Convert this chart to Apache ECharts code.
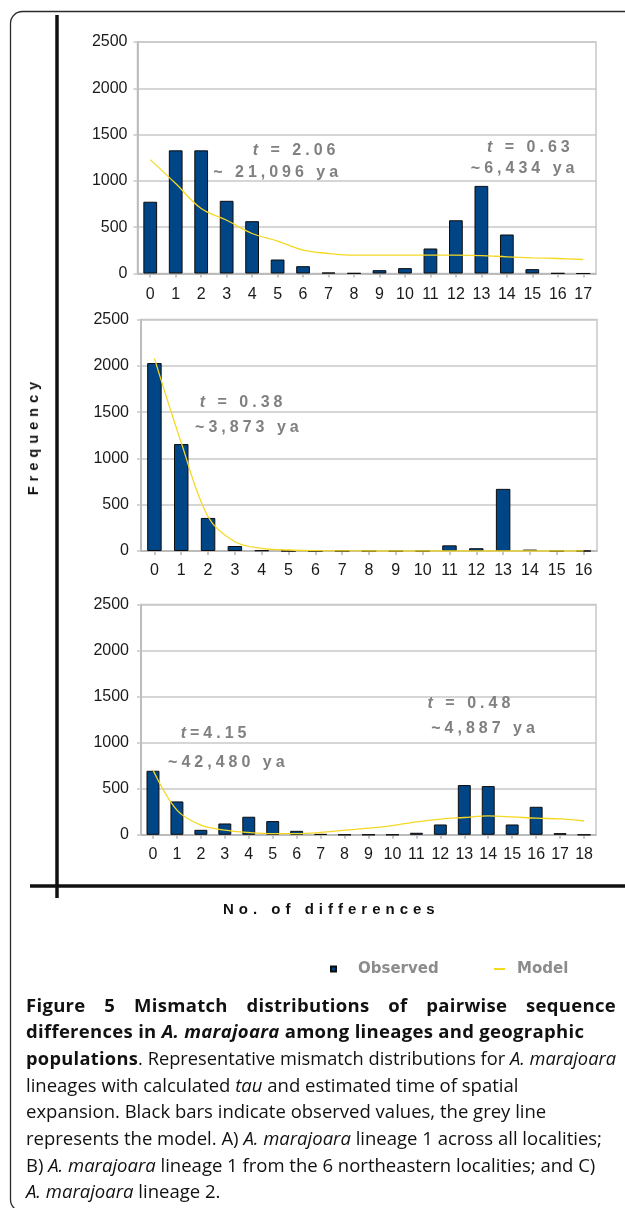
<!DOCTYPE html>
<html>
<head>
<meta charset="utf-8">
<script src="https://cdn.jsdelivr.net/npm/echarts@6/dist/echarts.min.js"></script>
<style>
  html, body { margin: 0; padding: 0; background: #fff; }
  #wrap { position: relative; width: 625px; height: 1208px; overflow: hidden; background: #fff; }
  #chart { position: absolute; left: 0; top: 0; width: 625px; height: 1208px; }
  .ov { position: absolute; z-index: 5; white-space: nowrap; }
  .ann { font-family: "Liberation Sans", Arial, sans-serif; font-weight: bold; font-size: 16px;
         letter-spacing: 4px; color: #808080; line-height: 20px; }
  .ttl { font-family: "Liberation Sans", Arial, sans-serif; font-weight: bold; color: #111; }
  .cap { position: absolute; left: 26px; z-index: 5; font-family: "Open Sans", sans-serif;
         font-size: 18.5px; line-height: 26.67px; height: 26.67px; color: #111; white-space: nowrap;
         transform-origin: 0 50%; }
  .cap b { letter-spacing: 0.3px; }
</style>
</head>
<body>
<div id="wrap">
  <div id="chart"></div>
</div>
<script>
// ---------- data ----------
const catsA = ['0','1','2','3','4','5','6','7','8','9','10','11','12','13','14','15','16','17'];
const observedA = [775, 1330, 1330, 785, 565, 151, 79, 10, 3, 36, 58, 270, 575, 946, 421, 47, 3, 0];
const modelA = [1230, 971, 701, 575, 432, 349, 252, 216, 198, 198, 198, 198, 198, 194, 180, 169, 162, 151];

const catsB = ['0','1','2','3','4','5','6','7','8','9','10','11','12','13','14','15','16'];
const observedB = [2030, 1155, 357, 54, 7, 0, 0, 0, 0, 0, 0, 61, 30, 671, 15, 0, 0];
const modelB = [2080, 1170, 370, 100, 29, 11, 3, 1, 0, 0, 0, 0, 0, 0, 0, 0, 0];

const catsC = ['0','1','2','3','4','5','6','7','8','9','10','11','12','13','14','15','16','17','18'];
const observedC = [695, 362, 54, 123, 196, 149, 43, 8, 0, 0, 0, 22, 112, 540, 529, 112, 304, 18, 0];
const modelC = [703, 268, 105, 51, 25, 12, 12, 25, 50, 72, 100, 140, 170, 188, 205, 195, 180, 172, 150];

const yMin = 0, yMax = 2500, yStep = 500;

const annotations = [
  ['<i>t</i> = 2.06', 252.8, 150],
  ['~ 21,096 ya', 213.2, 171.7],
  ['<i>t</i> = 0.63', 487, 146.7],
  ['~6,434 ya', 470.8, 168.3],
  ['<i>t</i> = 0.38', 199.8, 401.7],
  ['~3,873 ya', 195.1, 426.7],
  ['<i>t</i>=4.15', 180.7, 732.7],
  ['~42,480 ya', 168.1, 761.7],
  ['<i>t</i> = 0.48', 427.6, 703.3],
  ['~4,887 ya', 431.2, 728.3]
];

const captionLines = [
  ['j', '<b>Figure 5 Mismatch distributions of pairwise sequence</b>'],
  ['', '<b>differences in <i>A. marajoara</i> among lineages and geographic</b>'],
  ['j', '<b>populations</b>. Representative mismatch distributions for <i>A. marajoara</i>'],
  ['', 'lineages with calculated <i>tau</i> and estimated time of spatial'],
  ['', 'expansion. Black bars indicate observed values, the grey line'],
  ['', 'represents the model. A) <i>A. marajoara</i> lineage 1 across all localities;'],
  ['', 'B) <i>A. marajoara</i> lineage 1 from the 6 northeastern localities; and C)'],
  ['', '<i>A. marajoara</i> lineage 2.']
];

// ---------- layout ----------
const panels = [
  { cats: catsA, obs: observedA, model: modelA, grid: {left: 137.5, top: 42, width: 458.5, height: 231.5}, xm: 13, ym: 10 },
  { cats: catsB, obs: observedB, model: modelB, grid: {left: 141, top: 319.5, width: 456, height: 231.5}, xm: 12, ym: 12 },
  { cats: catsC, obs: observedC, model: modelC, grid: {left: 141, top: 604.5, width: 455, height: 230.3}, xm: 12, ym: 12 }
];

const axisGray = '#b5b5b5';
const gridGray = '#c8c8c8';
const labelFont = { fontFamily: "'Liberation Sans', Arial, sans-serif", fontSize: 16, color: '#1a1a1a' };

const option = {
  animation: false,
  backgroundColor: '#fff',
  grid: panels.map(p => Object.assign({ show: true, borderColor: gridGray, borderWidth: 1.5 }, p.grid)),
  xAxis: panels.map((p, i) => ({
    type: 'category', gridIndex: i, data: p.cats, boundaryGap: true,
    axisLine: { show: true, lineStyle: { color: axisGray, width: 1.5 } },
    axisTick: { show: true, alignWithLabel: true, length: 4, lineStyle: { color: axisGray, width: 1.5 } },
    axisLabel: Object.assign({ margin: p.xm, interval: 0 }, labelFont),
    splitLine: { show: false }
  })),
  yAxis: panels.map((p, i) => ({
    type: 'value', gridIndex: i, min: yMin, max: yMax, interval: yStep,
    axisLine: { show: true, lineStyle: { color: axisGray, width: 1.5 } },
    axisTick: { show: true, length: 4, lineStyle: { color: gridGray, width: 1.5 } },
    axisLabel: Object.assign({ margin: p.ym, formatter: v => String(v) }, labelFont),
    splitLine: { show: true, lineStyle: { color: gridGray, width: 1.5 } }
  })),
  legend: [
    { data: ['Observed'], left: 330, top: 961.5, padding: 0, icon: 'rect', itemWidth: 5, itemHeight: 5,
      selectedMode: false,
      textStyle: { fontFamily: 'DejaVu Sans', fontWeight: 'bold', fontSize: 15, color: '#8c8c8c', padding: [0, 0, 0, 17] } },
    { data: ['Model'], left: 494, top: 961.5, padding: 0, icon: 'rect', itemWidth: 11, itemHeight: 2,
      selectedMode: false,
      textStyle: { fontFamily: 'DejaVu Sans', fontWeight: 'bold', fontSize: 15, color: '#8c8c8c', padding: [0, 0, 0, 7] } }
  ],
  series: [].concat(
    panels.map((p, i) => ({
      name: 'Observed', type: 'bar', xAxisIndex: i, yAxisIndex: i, data: p.obs,
      barWidth: '54%', color: '#004586',
      itemStyle: { color: '#004586', borderColor: '#0d0d0d', borderWidth: 1 }
    })),
    panels.map((p, i) => ({
      name: 'Model', type: 'line', xAxisIndex: i, yAxisIndex: i, data: p.model,
      smooth: 0.35, symbol: 'none', color: '#f5d824', z: 5,
      lineStyle: { color: '#f5d824', width: 1.3 }
    }))
  ),
  graphic: [
    { type: 'rect', silent: true, shape: { x: 10.5, y: 11.5, width: 720, height: 1200, r: 12 },
      style: { fill: 'none', stroke: '#2b2b2b', lineWidth: 1.3 } },
    { type: 'line', silent: true, shape: { x1: 57, y1: 15, x2: 57, y2: 898 },
      style: { stroke: '#111', lineWidth: 3.5 } },
    { type: 'line', silent: true, shape: { x1: 30, y1: 886, x2: 625, y2: 886 },
      style: { stroke: '#111', lineWidth: 3.5 } }
  ]
};

const chart = echarts.init(document.getElementById('chart'), null, { renderer: 'canvas' });
chart.setOption(option);

// ---------- text overlays ----------
const wrap = document.getElementById('wrap');
annotations.forEach(([html, x, cy]) => {
  const d = document.createElement('div');
  d.className = 'ov ann';
  d.innerHTML = html;
  d.style.left = x + 'px';
  d.style.top = (cy - 10) + 'px';
  wrap.appendChild(d);
});

const xt = document.createElement('div');
xt.className = 'ov ttl';
xt.textContent = 'No. of differences';
xt.style.cssText += 'left:223px; top:' + (909.3 - 10) + 'px; font-size:15px; line-height:20px; letter-spacing:5px;';
wrap.appendChild(xt);

const yt = document.createElement('div');
yt.className = 'ov ttl';
yt.textContent = 'Frequency';
yt.style.cssText += 'left:33px; top:435.5px; font-size:14.5px; line-height:18px; letter-spacing:5px; transform: translate(-50%, -50%) rotate(-90deg);';
wrap.appendChild(yt);

const capWidth = 590;
captionLines.forEach(([cls, html], i) => {
  const d = document.createElement('div');
  d.className = 'cap';
  d.innerHTML = html;
  d.style.top = (1005 - 13.33 + i * 26.67) + 'px';
  wrap.appendChild(d);
  if (cls === 'j') {
    const natural = d.getBoundingClientRect().width;
    const spaces = (d.textContent.match(/ /g) || []).length;
    if (natural < capWidth && spaces > 0) {
      d.style.wordSpacing = ((capWidth - natural) / spaces) + 'px';
    } else if (natural > capWidth) {
      d.style.transform = 'scaleX(' + (capWidth / natural) + ')';
    }
  }
});
</script>
</body>
</html>
